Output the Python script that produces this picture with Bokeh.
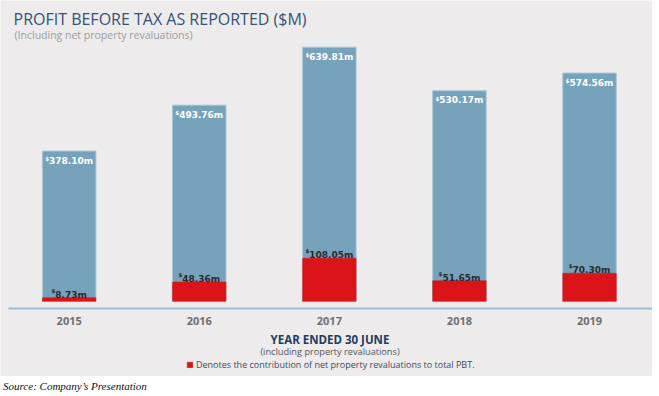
from bokeh.plotting import figure
from bokeh.models import Range1d, Label, FixedTicker, ColumnDataSource, Div, Legend, LegendItem
from bokeh.layouts import column
from bokeh.core.properties import value
from bokeh.embed import file_html
from bokeh.resources import INLINE

# ---------------- data ----------------
years = [2015, 2016, 2017, 2018, 2019]
year_labels = ["2015", "2016", "2017", "2018", "2019"]
pbt_total = [378.10, 493.76, 639.81, 530.17, 574.56]
revaluations = [8.73, 48.36, 108.05, 51.65, 70.30]

title_text = "PROFIT BEFORE TAX AS REPORTED ($M)"
subtitle_text = "(Including net property revaluations)"
xaxis_title = "YEAR ENDED 30 JUNE"
xaxis_sub = "(including property revaluations)"
legend_text = "Denotes the contribution of net property revaluations to total PBT."
source_text = "Source: Company\u2019s Presentation"

# ---------------- style ----------------
BG = "#edebec"
BLUE = "#76a3bb"
BLUE_EDGE = "#a8c5d5"
RED = "#db1419"
NAVY = "#34527a"
FONT = "Open Sans"
NUM_FONT = "DejaVu Sans"

W, H = 652, 376
X0, X1 = 2014.472, 2019.484
Y0, Y1 = -189.7, 757.4
SX = W / (X1 - X0)
SY = H / (Y1 - Y0)


def dx(px):
    return X0 + px / SX


def dy(py):
    return Y1 - py / SY


def fmt(v):
    return f"{v:.2f}m"


# approximate text widths (DejaVu Sans Bold) for centring "$" + number groups
def num_width(s, size):
    w = 0.0
    for ch in s:
        if ch.isdigit():
            w += 0.696
        elif ch == ".":
            w += 0.380
        elif ch == "m":
            w += 1.042
        else:
            w += 0.7
    return w * size


NUM_SIZE = 9
DOL_SIZE = 5.5
DOL_W = 0.696 * DOL_SIZE

tot_txt = [fmt(v) for v in pbt_total]
rev_txt = [fmt(v) for v in revaluations]

tot_start = [y - ((num_width(t, NUM_SIZE) + DOL_W) / 2) / SX for y, t in zip(years, tot_txt)]
rev_start = [y - ((num_width(t, NUM_SIZE) + DOL_W) / 2) / SX for y, t in zip(years, rev_txt)]

src = ColumnDataSource(dict(
    year=years,
    total=pbt_total,
    reval=revaluations,
    tot_txt=tot_txt,
    rev_txt=rev_txt,
    tot_num_x=[s + DOL_W / SX for s in tot_start],
    rev_num_x=[s + DOL_W / SX for s in rev_start],
    tot_dol_x=tot_start,
    rev_dol_x=rev_start,
    tot_y=[v - 9.5 / SY for v in pbt_total],
    tot_dol_y=[v - 8.0 / SY for v in pbt_total],
    rev_y=[v + 3.0 / SY for v in revaluations],
    rev_dol_y=[v + 7.0 / SY for v in revaluations],
    dollar=["$"] * len(years),
))

p = figure(width=W, height=H, x_range=Range1d(X0, X1), y_range=Range1d(Y0, Y1),
           output_backend="svg", toolbar_location=None, y_axis_location=None,
           min_border_left=0, min_border_right=0, min_border_top=0,
           min_border_bottom=0,
           background_fill_color=BG, border_fill_color=BG, outline_line_color=None)
p.grid.visible = False

p.vbar(x="year", top="total", bottom=0, width=0.411, source=src,
       fill_color=BLUE, line_color=BLUE_EDGE, line_width=1)
red_r = p.vbar(x="year", top="reval", bottom=0, width=0.411, source=src,
               fill_color=RED, line_color=RED, line_width=0.5)

# value labels
p.text(x="tot_num_x", y="tot_y", text="tot_txt", source=src, text_align="left",
       text_baseline="middle", text_font=value(NUM_FONT), text_font_style="bold",
       text_font_size=f"{NUM_SIZE}px", text_color="white")
p.text(x="tot_dol_x", y="tot_dol_y", text="dollar", source=src, text_align="left",
       text_baseline="middle", text_font=value(NUM_FONT), text_font_style="bold",
       text_font_size=f"{DOL_SIZE}px", text_color="white")
p.text(x="rev_num_x", y="rev_y", text="rev_txt", source=src, text_align="left",
       text_baseline="alphabetic", text_font=value(NUM_FONT), text_font_style="bold",
       text_font_size=f"{NUM_SIZE}px", text_color="#2a2a2a")
p.text(x="rev_dol_x", y="rev_dol_y", text="dollar", source=src, text_align="left",
       text_baseline="middle", text_font=value(NUM_FONT), text_font_style="bold",
       text_font_size=f"{DOL_SIZE}px", text_color="#2a2a2a")

# x axis drawn at a fixed position inside the frame
ax = p.xaxis[0]
ax.fixed_location = dy(308)
ax.bounds = (dx(8), X1)
ax.ticker = FixedTicker(ticks=years)
ax.major_label_overrides = {y: l for y, l in zip(years, year_labels)}
ax.axis_line_color = "#9dbdd2"
ax.axis_line_width = 2
ax.major_tick_line_color = None
ax.minor_tick_line_color = None
ax.major_tick_out = 0
ax.major_tick_in = 0
ax.major_label_standoff = 8
ax.major_label_text_font = FONT
ax.major_label_text_font_style = "bold"
ax.major_label_text_font_size = "11px"
ax.major_label_text_color = "#6f6f6f"

# titles
p.add_layout(Label(x=dx(13), y=dy(18.8), text=title_text, text_align="left",
                   text_baseline="middle", text_font=FONT, text_font_size="16px",
                   text_color=NAVY))
p.add_layout(Label(x=dx(14), y=dy(34), text=subtitle_text, text_align="left",
                   text_baseline="middle", text_font=FONT, text_font_size="10.5px",
                   text_color="#9b9b9b"))

# below-axis texts
p.add_layout(Label(x=dx(329.5), y=dy(339), text=xaxis_title, text_align="center",
                   text_baseline="middle", text_font=FONT, text_font_style="bold",
                   text_font_size="11.5px", text_color="#1d3e66"))
p.add_layout(Label(x=dx(329.5), y=dy(351), text=xaxis_sub, text_align="center",
                   text_baseline="middle", text_font=FONT, text_font_size="9.2px",
                   text_color="#555555"))

legend = Legend(items=[LegendItem(label=legend_text, renderers=[red_r])],
                location=(186, 5), glyph_width=7, glyph_height=7,
                label_height=12, label_standoff=3, padding=0, margin=0,
                label_text_font=FONT, label_text_font_size="9px",
                label_text_color="#3b4c66", background_fill_alpha=0,
                border_line_color=None)
p.add_layout(legend)

div = Div(text=source_text, width=W, height=20, margin=(0, 0, 0, 0),
          styles={"font-family": "'Liberation Serif', 'Times New Roman', serif",
                  "font-style": "italic", "font-size": "11px", "padding-left": "3px",
                  "line-height": "20px", "color": "#111111"})

layout = column(p, div, spacing=0)

open("out.html", "w").write(file_html(layout, INLINE))
